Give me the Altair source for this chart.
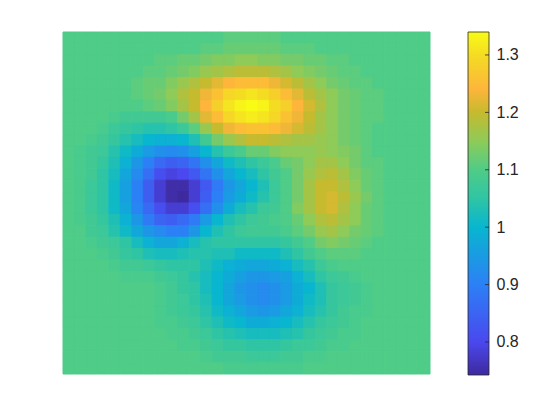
import altair as alt
import pandas as pd

# Field values x100 (rows top to bottom, columns left to right)
r00 = [110,110,110,110,110,110,110,110,110,110,110,110,110,110,111,111,111,111,111,110,110,110,110,110,110,110,110,110,110,110,110,110]
r01 = [110,110,110,110,110,110,110,110,110,110,110,110,111,111,112,112,112,112,112,111,111,111,110,110,110,110,110,110,110,110,110,110]
r02 = [110,110,110,110,110,110,110,110,111,111,112,112,113,114,114,115,115,114,114,113,113,112,112,111,111,110,110,110,110,110,110,110]
r03 = [110,110,110,110,110,110,110,111,111,112,113,114,116,117,118,119,119,119,118,117,115,114,113,112,111,111,110,110,110,110,110,110]
r04 = [110,110,110,110,110,110,111,112,112,114,116,118,120,122,124,125,125,125,123,121,119,117,115,113,112,111,111,110,110,110,110,110]
r05 = [110,110,110,110,110,110,111,112,113,115,118,120,123,126,129,130,131,130,128,125,122,119,117,115,113,112,111,111,110,110,110,110]
r06 = [110,110,110,110,110,110,110,111,112,114,117,120,124,128,131,133,134,133,130,128,124,121,118,115,113,112,111,111,110,110,110,110]
r07 = [110,110,110,110,109,108,108,108,108,109,113,117,122,125,129,131,132,131,129,126,123,120,117,115,113,112,111,111,110,110,110,110]
r08 = [110,110,110,109,107,106,105,104,104,105,107,111,116,120,123,125,126,126,125,123,121,119,117,115,113,112,111,110,110,110,110,110]
r09 = [110,110,109,108,106,104,102,100,99,99,100,103,108,113,116,118,120,120,119,118,117,117,116,115,113,112,111,110,110,110,110,110]
r10 = [110,109,108,107,104,101,98,95,93,92,93,96,100,104,107,109,112,112,114,115,115,115,116,115,114,113,111,110,110,110,110,110]
r11 = [110,109,108,106,103,99,94,90,86,84,85,88,93,97,101,103,105,107,109,112,113,115,117,117,115,113,111,111,110,110,110,110]
r12 = [110,109,108,105,102,97,92,87,81,79,80,83,88,93,97,100,102,105,108,110,113,116,118,119,117,114,112,111,110,110,110,110]
r13 = [110,109,107,105,101,96,90,84,78,75,75,78,83,89,94,97,100,103,107,110,113,117,120,120,118,115,112,111,110,110,110,110]
r14 = [110,109,107,105,101,96,90,84,78,75,74,78,84,90,95,98,101,104,107,110,113,117,120,121,119,116,113,111,110,110,110,110]
r15 = [110,109,107,105,101,97,91,86,81,78,78,81,87,93,98,102,104,107,108,110,114,117,120,121,118,115,112,111,110,110,110,110]
r16 = [110,109,108,106,103,99,94,89,85,84,86,89,95,100,103,105,107,108,109,110,112,115,118,119,117,115,112,111,110,110,110,110]
r17 = [110,110,108,107,104,101,97,94,92,90,90,94,100,103,105,107,108,108,108,109,111,113,116,117,115,113,112,111,110,110,110,110]
r18 = [110,110,109,108,107,105,102,99,97,97,99,102,104,105,105,105,105,105,105,106,108,110,113,114,113,112,111,110,110,110,110,110]
r19 = [110,110,110,109,108,106,105,103,102,102,103,104,104,103,103,101,101,101,101,103,105,108,110,111,111,111,110,110,110,110,110,110]
r20 = [110,110,110,110,109,108,108,107,106,105,105,105,103,101,99,98,97,97,98,99,102,104,107,109,110,110,110,110,110,110,110,110]
r21 = [110,110,110,110,110,109,109,109,108,107,106,104,102,100,98,96,94,94,95,96,99,102,105,107,108,109,110,110,110,110,110,110]
r22 = [110,110,110,110,110,110,110,110,109,108,106,105,102,100,97,94,93,92,93,95,98,100,103,106,107,108,109,110,110,110,110,110]
r23 = [110,110,110,110,110,110,110,110,109,108,107,105,103,100,97,95,93,92,93,95,98,101,103,106,107,108,109,110,110,110,110,110]
r24 = [110,110,110,110,110,110,110,110,109,108,107,106,104,101,99,97,95,94,95,97,99,102,104,106,108,109,109,110,110,110,110,110]
r25 = [110,110,110,110,110,110,110,110,109,109,108,107,105,103,101,100,98,98,99,100,102,104,106,107,108,109,110,110,110,110,110,110]
r26 = [110,110,110,110,110,110,110,110,110,109,109,108,107,105,104,103,102,102,102,103,104,106,107,108,109,109,110,110,110,110,110,110]
r27 = [110,110,110,110,110,110,110,110,110,110,109,109,108,107,106,106,105,105,105,106,107,107,108,109,109,110,110,110,110,110,110,110]
r28 = [110,110,110,110,110,110,110,110,110,110,110,110,109,108,108,108,107,107,107,108,108,109,109,110,110,110,110,110,110,110,110,110]
r29 = [110,110,110,110,110,110,110,110,110,110,110,110,110,110,109,109,109,109,109,109,109,110,110,110,110,110,110,110,110,110,110,110]
rows = [r00,r01,r02,r03,r04,r05,r06,r07,r08,r09,r10,r11,r12,r13,r14,r15,
        r16,r17,r18,r19,r20,r21,r22,r23,r24,r25,r26,r27,r28,r29]

color_levels = [0.7425, 0.80, 0.90, 1.00, 1.05, 1.10, 1.15, 1.20, 1.24, 1.30, 1.34]
color_values = ["#3e2a9e", "#4a48ee", "#2c80f6", "#08b6cf", "#2fc5a4", "#4fcc87",
                "#8ecb58", "#c6ba2e", "#fdb53b", "#f4dc23", "#f9fb15"]
tick_values = [0.8, 0.9, 1.0, 1.1, 1.2, 1.3]
domain_min, domain_max = color_levels[0], color_levels[-1]

records = []
for j, row in enumerate(rows):
    assert len(row) == 32, j
    for i, v in enumerate(row):
        records.append({"x0": i, "x1": i + 1, "y0": j, "y1": j + 1, "v": v / 100})
df = pd.DataFrame(records)

color = alt.Scale(domain=color_levels, range=color_values, interpolate="rgb", clamp=True)

heat = alt.Chart(df).mark_rect(strokeWidth=1.0).encode(
    x=alt.X("x0:Q", axis=None, scale=alt.Scale(domain=[0, 32], nice=False, zero=False)),
    x2="x1:Q",
    y=alt.Y("y0:Q", axis=None, scale=alt.Scale(domain=[0, 30], reverse=True, nice=False, zero=False)),
    y2="y1:Q",
    fill=alt.Fill("v:Q", scale=color, legend=None),
    stroke=alt.Stroke("v:Q", scale=color, legend=None),
).properties(width=367, height=342)

stops = [
    alt.GradientStop(offset=(lv - domain_min) / (domain_max - domain_min), color=c)
    for lv, c in zip(color_levels, color_values)
]
bar_df = pd.DataFrame({"a": [domain_min], "b": [domain_max]})
y_scale = alt.Scale(domain=[domain_min, domain_max], nice=False, zero=False)
bar_axis = alt.Axis(
    orient="right", values=tick_values, format="~g", title=None, ticks=False,
    domain=False, grid=False, labelFont="Liberation Sans", labelFontSize=16,
    labelColor="#262626", labelPadding=7,
)
bar = alt.Chart(bar_df).mark_rect(
    fill=alt.LinearGradient(gradient="linear", stops=stops, x1=0, x2=0, y1=1, y2=0),
    stroke="#262626",
    strokeWidth=0.8,
).encode(
    y=alt.Y("a:Q", scale=y_scale, axis=bar_axis),
    y2="b:Q",
    x=alt.value(0),
    x2=alt.value(21),
)
tick_marks = alt.Chart(pd.DataFrame({"t": tick_values})).mark_rule(
    color="#262626", strokeWidth=0.8
).encode(
    y=alt.Y("t:Q", scale=y_scale, axis=bar_axis),
    x=alt.value(17),
    x2=alt.value(21),
)
colorbar = alt.layer(bar, tick_marks).properties(width=21, height=343)

chart = alt.hconcat(heat, colorbar, spacing=36).properties(
    padding={"left": 54, "top": 23, "right": 0, "bottom": 0}
).configure_view(stroke=None)

chart.save("out.html", embed_options={"renderer": "svg", "actions": False})
